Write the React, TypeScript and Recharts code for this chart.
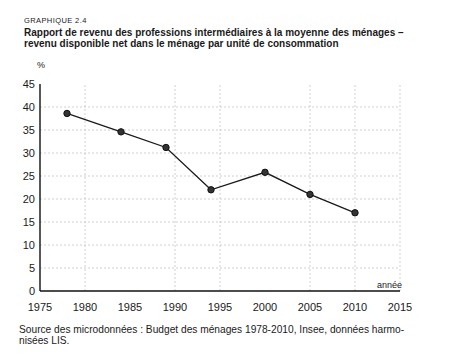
import { Line, LineChart, ReferenceLine, XAxis, YAxis } from 'recharts';

const years = [1978, 1984, 1989, 1994, 2000, 2005, 2010];
const ratios = [38.6, 34.6, 31.2, 22, 25.8, 21, 17];
const xTicks = [1975, 1980, 1985, 1990, 1995, 2000, 2005, 2010, 2015];
const yTicks = [0, 5, 10, 15, 20, 25, 30, 35, 40, 45];
// la grille verticale de l'original saute 1985 et 2000
const gridYears = [1980, 1990, 1995, 2005, 2010, 2015];
const gridValues = [5, 10, 15, 20, 25, 30, 35, 40];

const data = years.map((annee, i) => ({ annee, ratio: ratios[i] }));

const sans = '"Liberation Sans", Arial, sans-serif';
const narrow = '"Liberation Sans Narrow", "Liberation Sans", Arial, sans-serif';
const gridColor = '#c4c4c4';

const abs = (top: number, left: number, size: number, extra = {}) => ({
  position: 'absolute' as const,
  top,
  left,
  fontSize: size,
  lineHeight: 1,
  whiteSpace: 'nowrap' as const,
  color: '#1a1a1a',
  fontFamily: sans,
  ...extra
});

export default function App() {
  return (
    <div style={{ position: 'absolute', left: 0, top: 0, width: 458, height: 359, background: '#fff', overflow: 'hidden' }}>
      <div style={abs(17.3, 24, 7.5, { letterSpacing: 0.4 })}>GRAPHIQUE 2.4</div>
      <div style={abs(27.6, 24, 10, { fontWeight: 700 })}>
        Rapport de revenu des professions intermédiaires à la moyenne des ménages –
      </div>
      <div style={abs(39.2, 24, 10, { fontWeight: 700 })}>
        revenu disponible net dans le ménage par unité de consommation
      </div>
      <div style={abs(61, 37, 9, { fontFamily: narrow })}>%</div>

      <div style={{ position: 'absolute', left: 0, top: 0 }}>
        <LineChart width={458} height={359} data={data} margin={{ top: 84, right: 58, bottom: 38, left: 0 }}>
          {gridValues.map((v) => (
            <ReferenceLine key={'h' + v} y={v} stroke={gridColor} strokeDasharray="2 2" strokeWidth={0.8} />
          ))}
          {gridYears.map((yr) => (
            <ReferenceLine key={'v' + yr} x={yr} stroke={gridColor} strokeDasharray="2 2" strokeWidth={0.8} />
          ))}
          <XAxis
            dataKey="annee"
            type="number"
            domain={[1975, 2015]}
            ticks={xTicks}
            interval={0}
            height={30}
            tickLine={false}
            tickSize={0}
            tickMargin={12}
            axisLine={{ stroke: '#111', strokeWidth: 1.6 }}
            tick={{ fontSize: 11, fill: '#1a1a1a', fontFamily: narrow }}
          />
          <YAxis
            type="number"
            domain={[0, 45]}
            ticks={yTicks}
            interval={0}
            width={40}
            tickLine={false}
            tickSize={0}
            tickMargin={5}
            axisLine={{ stroke: '#111', strokeWidth: 1.4 }}
            tick={{ fontSize: 11, fill: '#1a1a1a', fontFamily: narrow }}
          />
          <Line
            dataKey="ratio"
            type="linear"
            stroke="#1a1a1a"
            strokeWidth={1.3}
            dot={{ r: 3.2, fill: '#333', stroke: '#111', strokeWidth: 1 }}
            isAnimationActive={false}
          />
        </LineChart>
      </div>

      <div style={abs(281, 377, 9, { fontFamily: narrow })}>année</div>

      <div style={abs(325, 19, 10.2, { lineHeight: '10.5px' })}>
        Source des microdonnées : Budget des ménages 1978-2010, Insee, données harmo-
        <br />
        nisées LIS.
      </div>
    </div>
  );
}
